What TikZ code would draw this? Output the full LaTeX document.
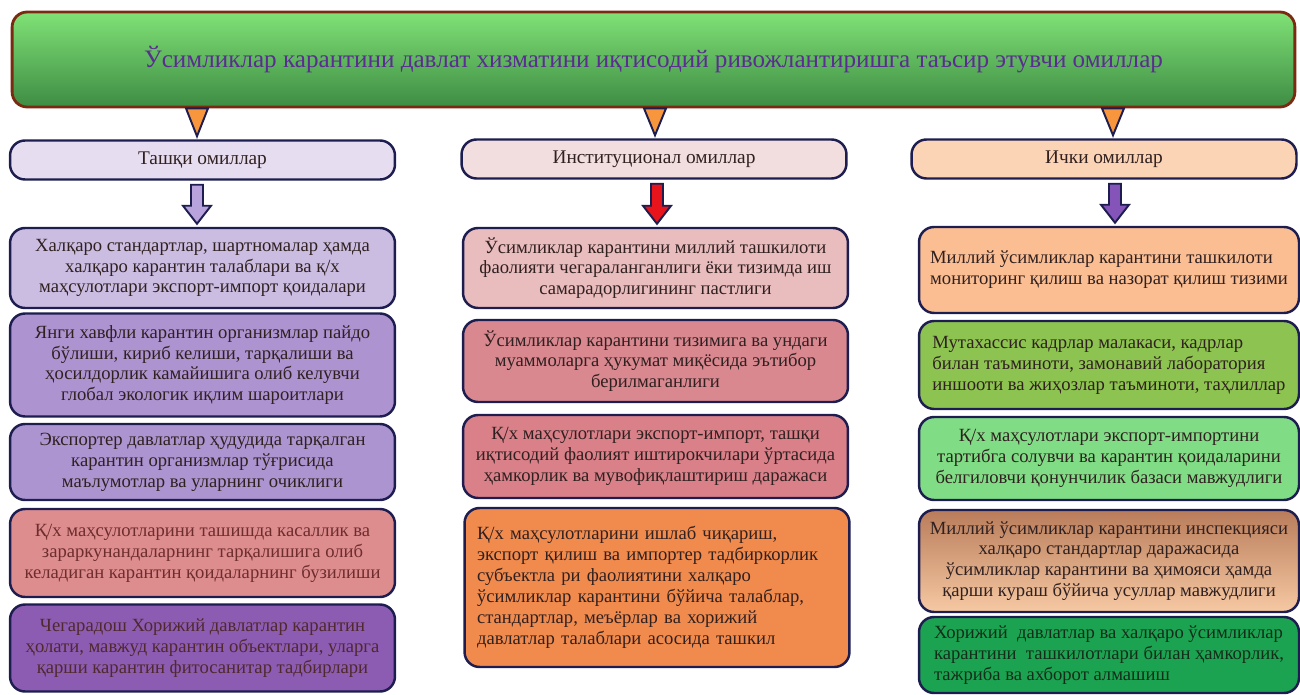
\documentclass[tikz,border=0pt]{standalone}
\usepackage{fontspec}
\setmainfont{Liberation Serif}
\usetikzlibrary{calc}

\definecolor{navy}{HTML}{1D1D50}
\definecolor{frame}{HTML}{7A2A10}
\definecolor{ttltxt}{HTML}{5A2D90}
\definecolor{txt}{HTML}{302020}
\definecolor{tri}{HTML}{F7963D}

\begin{document}
\begin{tikzpicture}[x=0.02cm,y=-0.02cm,
  box/.style={draw=navy,line width=1.4pt,rounded corners=0.3cm,align=center,
    inner sep=2pt,text=txt,font=\fontsize{10.6}{11.9}\selectfont},
  hdr/.style={box,minimum width=7.7cm,minimum height=0.78cm,font=\fontsize{11}{13}\selectfont},
  colA/.style={box,minimum width=7.7cm},
  colB/.style={box,minimum width=7.7cm},
  colC/.style={box,minimum width=7.6cm}]
  \useasboundingbox (0,0) rectangle (1300,695);

  % title
  \node[draw=frame,line width=1.6pt,rounded corners=0.3cm,top color={rgb,255:red,128;green,226;blue,118},
        bottom color={rgb,255:red,62;green,140;blue,68},minimum width=25.66cm,minimum height=1.9cm,
        text=ttltxt,font=\fontsize{14.3}{17}\selectfont] (ttl) at (653.5,59.5)
        {Ўсимликлар карантини давлат хизматини иқтисодий ривожлантиришга таъсир этувчи омиллар};

  % three groups
  \node[hdr,fill={rgb,255:red,230;green,222;blue,240}] (hl) at (202.5,160) {Ташқи омиллар};
  \node[hdr,fill={rgb,255:red,242;green,222;blue,222}] (hm) at (654,159) {Институционал омиллар};
  \node[hdr,fill={rgb,255:red,251;green,211;blue,181}] (hr) at (1104,159) {Ички омиллар};

  % left column
  \node[colA,fill={rgb,255:red,203;green,189;blue,226},minimum height=1.6cm] (l1) at (202.5,268)
    {Халқаро стандартлар, шартномалар ҳамда\\ халқаро карантин талаблари ва қ/х\\ маҳсулотлари экспорт-импорт қоидалари};
  \node[colA,fill={rgb,255:red,174;green,147;blue,209},minimum height=2.06cm] (l2) at (202.5,365)
    {Янги хавфли карантин организмлар пайдо\\ бўлиши, кириб келиши, тарқалиши ва\\ ҳосилдорлик камайишига олиб келувчи\\ глобал экологик иқлим шароитлари};
  \node[colA,fill={rgb,255:red,171;green,148;blue,208},minimum height=1.52cm] (l3) at (202.5,462)
    {Экспортер давлатлар ҳудудида тарқалган\\ карантин организмлар тўғрисида\\ маълумотлар ва уларнинг очиклиги};
  \node[colA,fill={rgb,255:red,222;green,141;blue,143},minimum height=1.76cm,text={rgb,255:red,110;green,45;blue,45}] (l4) at (202.5,553)
    {Қ/х маҳсулотларини ташишда касаллик ва\\ зараркунандаларнинг тарқалишига олиб\\ келадиган карантин қоидаларнинг бузилиши};
  \node[colA,fill={rgb,255:red,140;green,92;blue,179},minimum height=1.74cm,text={rgb,255:red,80;green,40;blue,45}] (l5) at (202.5,648)
    {Чегарадош Хорижий давлатлар карантин\\ ҳолати, мавжуд карантин объектлари, уларга\\ қарши карантин фитосанитар тадбирлари};

  % middle column
  \node[colB,fill={rgb,255:red,233;green,188;blue,190},minimum height=1.6cm] (m1) at (655.5,268)
    {Ўсимликлар карантини миллий ташкилоти\\ фаолияти чегараланганлиги ёки тизимда иш\\ самарадорлигининг пастлиги};
  \node[colB,fill={rgb,255:red,217;green,136;blue,144},minimum height=1.64cm] (m2) at (655.5,361)
    {Ўсимликлар карантини тизимига ва ундаги\\ муаммоларга ҳукумат миқёсида эътибор\\ берилмаганлиги};
  \node[colB,fill={rgb,255:red,217;green,128;blue,137},minimum height=1.66cm] (m3) at (655.5,456.5)
    {Қ/х маҳсулотлари экспорт-импорт, ташқи\\ иқтисодий фаолият иштирокчилари ўртасида\\ ҳамкорлик ва мувофиқлаштириш даражаси};
  \node[colB,fill={rgb,255:red,241;green,139;blue,77},minimum height=3.18cm,align=left,text width=7.2cm] (m4) at (657,587.5)
    {Қ/х маҳсулотларини ишлаб чиқариш,\\ экспорт қилиш ва импортер тадбиркорлик\\ субъектла ри фаолиятини халқаро\\ ўсимликлар карантини бўйича талаблар,\\ стандартлар, меъёрлар ва хорижий\\ давлатлар талаблари асосида ташкил};

  % right column
  \node[colC,fill={rgb,255:red,251;green,190;blue,146},minimum height=1.72cm,align=left] (r1) at (1109,270)
    {Миллий ўсимликлар карантини ташкилоти\\ мониторинг қилиш ва назорат қилиш тизими};
  \node[colC,fill={rgb,255:red,141;green,195;blue,80},minimum height=1.76cm,align=left] (r2) at (1109,365)
    {Мутахассис кадрлар малакаси, кадрлар\\ билан таъминоти, замонавий лаборатория\\ иншооти ва жиҳозлар таъминоти, таҳлиллар};
  \node[colC,fill={rgb,255:red,128;green,221;blue,133},minimum height=1.66cm] (r3) at (1109,458.5)
    {Қ/х маҳсулотлари экспорт-импортини\\ тартибга солувчи ва карантин қоидаларини\\ белгиловчи қонунчилик базаси мавжудлиги};
  \node[colC,top color={rgb,255:red,185;green,124;blue,91},bottom color={rgb,255:red,246;green,201;blue,163},minimum height=2.04cm] (r4) at (1109,561)
    {Миллий ўсимликлар карантини инспекцияси\\ халқаро стандартлар даражасида\\ ўсимликлар карантини ва ҳимояси ҳамда\\ қарши кураш бўйича усуллар мавжудлиги};
  \node[colC,fill={rgb,255:red,28;green,163;blue,82},minimum height=1.52cm,align=left,text={rgb,255:red,20;green,45;blue,25}] (r5) at (1109,655)
    {Хорижий\ \ давлатлар ва халқаро ўсимликлар\\ карантини\ \ ташкилотлари билан ҳамкорлик,\\ тажриба ва ахборот алмашиш};

  % small triangles under the title
  \foreach \h/\dx in {hl/-5.5,hm/1,hr/9}
    \draw[navy,line width=1.1pt,fill=tri] ($(ttl.south -| \h.north)+(\dx-11,0)$) -- ($(ttl.south -| \h.north)+(\dx+11,0)$)
      -- ($(\h.north)+(\dx,-3)$) -- cycle;

  % block arrows
  \foreach \h/\b/\c/\dx in {hl/l1/{rgb,255:red,185;green,163;blue,220}/-5.5,hm/m1/{rgb,255:red,232;green,20;blue,28}/1.5,hr/r1/{rgb,255:red,132;green,84;blue,184}/6}
    \draw[navy,line width=1.1pt,fill=\c] ($(\h.south -| \b.north)+(\dx-6,4)$) -- ($(\b.north)+(\dx-6,-21)$)
      -- ($(\b.north)+(\dx-14,-21)$) -- ($(\b.north)+(\dx,-3)$) -- ($(\b.north)+(\dx+14,-21)$)
      -- ($(\b.north)+(\dx+6,-21)$) -- ($(\h.south -| \b.north)+(\dx+6,4)$) -- cycle;
\end{tikzpicture}
\end{document}
